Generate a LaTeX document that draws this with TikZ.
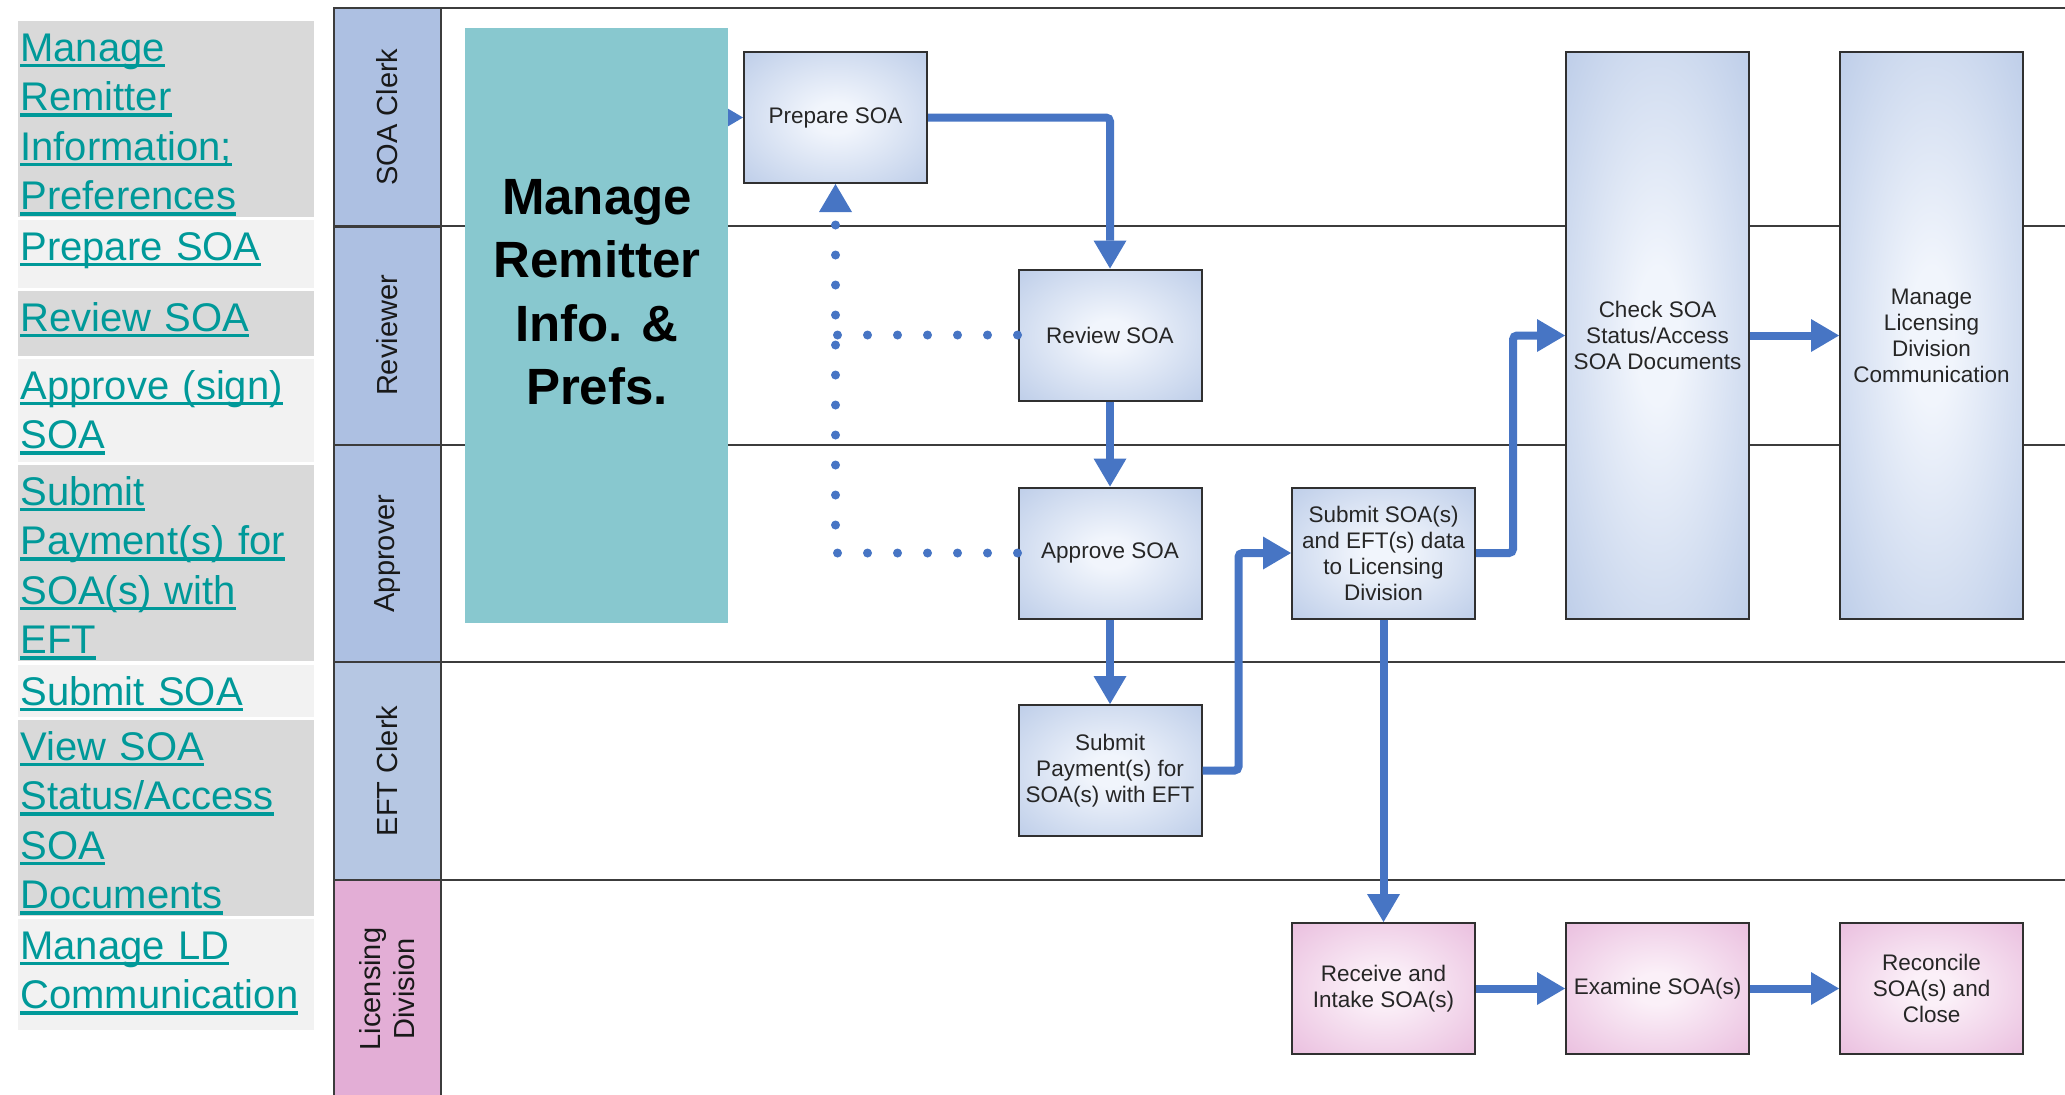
\documentclass[tikz,border=0pt]{standalone}
\usepackage{fontspec}
\setmainfont{Liberation Sans}
\usepackage{xcolor}
\usetikzlibrary{arrows.meta,backgrounds}

\definecolor{navdark}{HTML}{D9D9D9}
\definecolor{navlight}{HTML}{F2F2F2}
\definecolor{navtext}{HTML}{009999}
\definecolor{laneblue}{HTML}{ADC0E2}
\definecolor{lanelight}{HTML}{B6C7E3}
\definecolor{lanepink}{HTML}{E3AED6}
\definecolor{laneline}{HTML}{3C3C3C}
\definecolor{mrifill}{HTML}{88C8CF}
\definecolor{flowblue}{RGB}{71,117,196}
\definecolor{boxline}{HTML}{303030}
\definecolor{boxtext}{HTML}{262626}
\definecolor{bluemid}{RGB}{241,245,252}
\definecolor{blueedge}{RGB}{172,192,226}
\definecolor{pinkmid}{RGB}{251,240,248}
\definecolor{pinkedge}{RGB}{228,174,214}

\pgfdeclareradialshading{blueshade}{\pgfpoint{0bp}{0bp}}{color(0bp)=(bluemid);color(6bp)=(bluemid);color(46bp)=(blueedge);color(50bp)=(blueedge)}
\pgfdeclareradialshading{pinkshade}{\pgfpoint{0bp}{0bp}}{color(0bp)=(pinkmid);color(6bp)=(pinkmid);color(46bp)=(pinkedge);color(50bp)=(pinkedge)}

\newcommand{\navlink}[1]{\leavevmode\setbox0=\hbox{#1}\rlap{\rule[-3pt]{\wd0}{1.8pt}}\box0}

\tikzset{
  navitem/.style={anchor=north west, inner xsep=1pt, inner ysep=0pt, text width=146pt,
    text height=20pt, align=left, text=navtext, font=\fontsize{20pt}{24.75pt}\selectfont},
  lanehead/.style={rotate=90, draw=laneline, line width=1pt, minimum width=109pt,
    minimum height=53.5pt, inner sep=0pt, align=center, text=black!90,
    font=\fontsize{14.5pt}{17pt}\selectfont},
  procbox/.style={draw=boxline, line width=1pt, shading=blueshade, minimum width=91.5pt,
    minimum height=65.5pt, inner sep=0pt, align=center, text=boxtext,
    font=\fontsize{11.25pt}{13pt}\selectfont},
  ldbox/.style={procbox, shading=pinkshade},
  flow/.style={draw=flowblue, line width=4pt, rounded corners=2pt,
    -{Triangle[width=16.5pt,length=14pt,line width=0pt]}},
  backlink/.style={draw=flowblue, line width=4.5pt, line cap=round, dash pattern=on 0pt off 15pt,
    -{Triangle[width=16.5pt,length=14pt,line width=0pt]}}
}

\begin{document}
\begin{tikzpicture}[x=0.5pt,y=-0.5pt]
\useasboundingbox (0,0) rectangle (2065,1094);

% menu on the left
\node[navitem, fill=navdark, text depth=78pt] (nav1) at (18,21)
  {\navlink{Manage}\\\navlink{Remitter}\\\navlink{Information;}\\\navlink{Preferences}};
\node[navitem, fill=navlight, text depth=14pt] (nav2) at (18,220) {\navlink{Prepare SOA}};
\node[navitem, fill=navdark, text depth=12.5pt] (nav3) at (18,291) {\navlink{Review SOA}};
\node[navitem, fill=navlight, text depth=31.5pt] (nav4) at (18,359)
  {\navlink{Approve (sign)}\\\navlink{SOA}};
\node[navitem, fill=navdark, text depth=78pt] (nav5) at (18,465)
  {\navlink{Submit}\\\navlink{Payment(s) for}\\\navlink{SOA(s) with}\\\navlink{EFT}};
\node[navitem, fill=navlight, text depth=6pt] (nav6) at (18,665) {\navlink{Submit SOA}};
\node[navitem, fill=navdark, text depth=78pt] (nav7) at (18,720)
  {\navlink{View SOA}\\\navlink{Status/Access}\\\navlink{SOA}\\\navlink{Documents}};
\node[navitem, fill=navlight, text depth=35.5pt] (nav8) at (18,919)
  {\navlink{Manage LD}\\\navlink{Communication}};

% swim lanes
\draw[laneline, line width=1pt] (334,8) -- (2065,8);
\draw[laneline, line width=1pt] (334,226) -- (2065,226);
\draw[laneline, line width=1pt] (334,445) -- (2065,445);
\draw[laneline, line width=1pt] (334,662) -- (2065,662);
\draw[laneline, line width=1pt] (334,880) -- (2065,880);
\node[lanehead, fill=laneblue] (lclerk) at (387.5,117) {SOA Clerk};
\node[lanehead, fill=laneblue] (lreview) at (387.5,335.5) {Reviewer};
\node[lanehead, fill=laneblue] (lapprove) at (387.5,553.5) {Approver};
\node[lanehead, fill=lanelight] (left) at (387.5,771) {EFT Clerk};
\node[lanehead, fill=lanepink] (lld) at (387.5,989) {Licensing\\Division};

% process steps
\node[procbox] (prep) at (835.5,117.5) {Prepare SOA};
\node[procbox] (review) at (1110,335) {Review SOA};
\node[procbox] (approve) at (1110,553) {Approve SOA};
\node[procbox] (subpay) at (1110,770.5) {Submit\\Payment(s) for\\SOA(s) with EFT};
\node[procbox] (submit) at (1383.5,553) {Submit SOA(s)\\and EFT(s) data\\to Licensing\\Division};
\node[procbox, minimum height=283.5pt] (check) at (1657.5,335.5) {Check SOA\\Status/Access\\SOA Documents};
\node[procbox, minimum height=283.5pt] (mld) at (1931.5,335.5) {Manage\\Licensing\\Division\\Communication};
\node[ldbox] (receive) at (1383.5,988.5) {Receive and\\Intake SOA(s)};
\node[ldbox] (examine) at (1657.5,988.5) {Examine SOA(s)};
\node[ldbox] (reconcile) at (1931.5,988.5) {Reconcile\\SOA(s) and\\Close};

% remitter box
\node[fill=mrifill, minimum width=131.5pt, minimum height=297.5pt, inner sep=0pt] (mri) at (596.5,325.5) {};
\node[font=\bfseries\fontsize{25.5pt}{31.75pt}\selectfont, align=center, inner sep=0pt] (mritext) at (597,292)
  {Manage\\Remitter\\Info. \&\\Prefs.};

% connectors
\begin{scope}[on background layer]
\draw[flow] (mri |- prep.west) -- (prep.west);
\end{scope}
\draw[flow] (prep.east) -| (review.north);
\draw[flow] (review.south) -- (approve.north);
\draw[flow] (approve.south) -- (subpay.north);
\draw[flow] (subpay.east) -- ++(36,0) |- (submit.west);
\draw[flow] (submit.east) -- ++(37,0) |- (check.west);
\draw[flow] (submit.south) -- (receive.north);
\draw[flow] (check.east) -- (mld.west);
\draw[flow] (receive.east) -- (examine.west);
\draw[flow] (examine.east) -- (reconcile.west);
\draw[backlink] (approve.west) -| (prep.south);
\draw[backlink, -] (review.west) -- (review.west -| prep.south);
\end{tikzpicture}
\end{document}
